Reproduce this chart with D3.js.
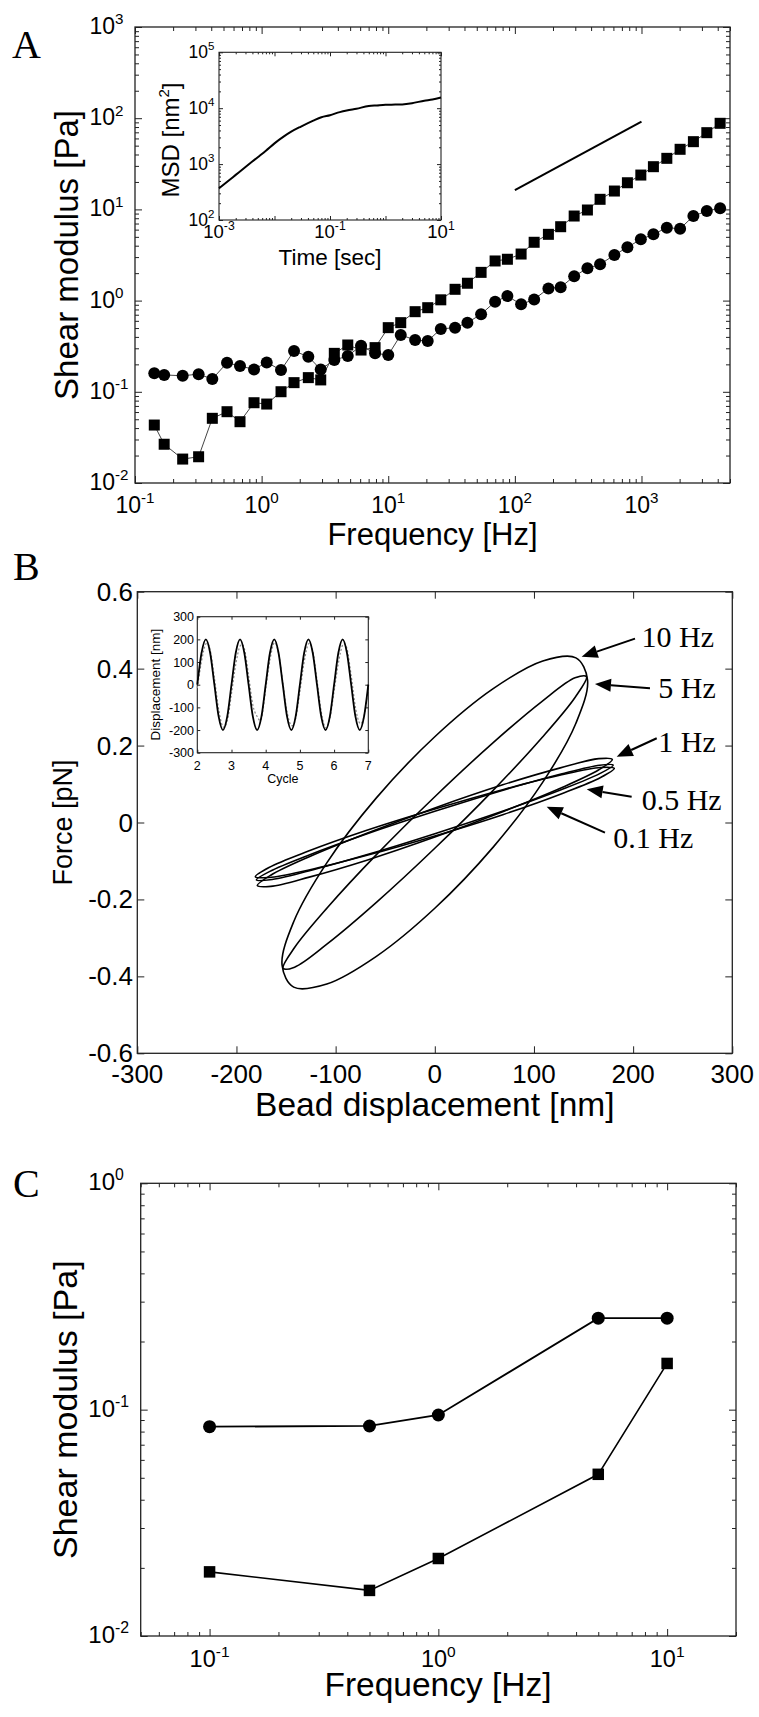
<!DOCTYPE html>
<html><head><meta charset="utf-8">
<script src="https://cdn.jsdelivr.net/npm/d3@7"></script>
<style>body{margin:0;background:#fff}svg{display:block}</style>
</head><body>
<svg id="fig" width="759" height="1717"></svg>
<script>
// ================= DATA =================
// Panel A: shear modulus vs frequency
const freqA = [0.142,0.170,0.238,0.318,0.408,0.533,0.675,0.871,1.097,1.423,1.803,2.338,2.93,3.75,4.79,6.10,7.87,10.0,12.55,16.3,20.5,26.0,33.7,42.2,54.1,69.8,87.3,112,142,184,230,294,374,471,611,774,988,1242,1585,2018,2570,3280,4178];
const gCircleA = [0.160,0.153,0.150,0.156,0.138,0.208,0.192,0.176,0.210,0.173,0.280,0.243,0.176,0.223,0.247,0.320,0.264,0.253,0.42,0.37,0.36,0.489,0.505,0.573,0.708,0.973,1.12,0.91,1.03,1.36,1.40,1.85,2.26,2.50,3.16,3.84,4.70,5.33,6.30,6.14,8.46,9.6,10.3];
const gSquareA = [0.0432,0.0266,0.0183,0.0194,0.0512,0.0605,0.047,0.0759,0.0734,0.1002,0.126,0.143,0.135,0.264,0.326,0.287,0.305,0.505,0.573,0.756,0.836,1.02,1.33,1.55,2.04,2.72,2.84,3.24,4.36,5.33,6.46,8.46,9.85,12.9,15.9,19.6,23.8,29.4,36.3,45.6,55.3,69.4,87.9];
const slopeF = [100, 1000];
const slopeG = [16.3, 91.7];
const xTickExpA = ["-1","0","1","2","3"];
const yTickExpA = ["-2","-1","0","1","2","3"];
// Inset A: MSD vs time
const msdT = [0.001,0.0015,0.002,0.003,0.005,0.007,0.01,0.015,0.02,0.03,0.05,0.07,0.1,0.15,0.2,0.3,0.5,0.7,1,1.5,2,3,5,7,10];
const msdV = [368,509,641,887,1330,1740,2350,3160,3800,4700,6000,6900,7500,8500,9100,9800,10900,11200,11500,11600,11700,12300,13600,14300,15500];
const insetAXExp = ["-3","-1","1"];
const insetAYExp = ["2","3","4","5"];

// Panel B: force vs bead displacement loops [displacement nm, force pN]
const loop10Hz = [[0,0.223],[58.9,0.348],[108.9,0.420],[142.3,0.428],[154,0.371],[142.3,0.258],[108.9,0.105],[58.9,-0.064],[0,-0.223],[-58.9,-0.348],[-108.9,-0.420],[-142.3,-0.428],[-154,-0.371],[-142.3,-0.258],[-108.9,-0.105],[-58.9,0.064]];
const loop5Hz = [[0,0.067],[58.6,0.207],[108.2,0.315],[141.4,0.376],[153,0.379],[141.4,0.325],[108.2,0.221],[58.6,0.083],[0,-0.067],[-58.6,-0.207],[-108.2,-0.315],[-141.4,-0.376],[-153,-0.379],[-141.4,-0.325],[-108.2,-0.221],[-58.6,-0.083]];
const loop1Hz = [[0,0.038],[68.5,0.098],[126.6,0.142],[165.4,0.166],[179,0.164],[165.4,0.137],[126.6,0.089],[68.5,0.028],[0,-0.038],[-68.5,-0.098],[-126.6,-0.142],[-165.4,-0.166],[-179,-0.164],[-165.4,-0.137],[-126.6,-0.089],[-68.5,-0.028]];
const loop05Hz = [[0,0.029],[68.9,0.084],[127.3,0.126],[166.3,0.149],[180,0.149],[166.3,0.127],[127.3,0.085],[68.9,0.030],[0,-0.029],[-68.9,-0.084],[-127.3,-0.126],[-166.3,-0.149],[-180,-0.149],[-166.3,-0.127],[-127.3,-0.085],[-68.9,-0.030]];
const loop01Hz = [[0,0.035],[69.3,0.086],[128,0.124],[167.2,0.143],[181,0.141],[167.2,0.117],[128,0.075],[69.3,0.021],[0,-0.035],[-69.3,-0.086],[-128,-0.124],[-167.2,-0.143],[-181,-0.141],[-167.2,-0.117],[-128,-0.075],[-69.3,-0.021]];
const loopLabels = ["10 Hz","5 Hz","1 Hz","0.5 Hz","0.1 Hz"];
// annotation anchors in data units: arrow tip, arrow tail, text start
const annTip  = [[148.1,0.431],[161.5,0.360],[183.4,0.171],[153.2,0.0863],[112.8,0.041]];
const annTail = [[201.9,0.478],[217,0.349],[223.8,0.219],[198.5,0.067],[171.6,-0.0265]];
const annText = [[208.5,0.456],[225.4,0.323],[225.4,0.184],[208.6,0.0325],[180,-0.067]];
const xTicksB = [-300,-200,-100,0,100,200,300];
const yTicksB = [-0.6,-0.4,-0.2,0,0.2,0.4,0.6];
// Inset B: displacement vs cycle
const cycle = [2,2.125,2.25,2.375,2.5,2.625,2.75,2.875,3,3.125,3.25,3.375,3.5,3.625,3.75,3.875,4,4.125,4.25,4.375,4.5,4.625,4.75,4.875,5,5.125,5.25,5.375,5.5,5.625,5.75,5.875,6,6.125,6.25,6.375,6.5,6.625,6.75,6.875,7];
const dispSolid = [0,141,200,141,0,-141,-200,-141,0,141,200,141,0,-141,-200,-141,0,141,200,141,0,-141,-200,-141,0,141,200,141,0,-141,-200,-141,0,141,200,141,0,-141,-200,-141,0];
const dispDotted = [-15,105,180,155,30,-110,-185,-160,-40,90,170,160,40,-90,-140,-150,-20,110,185,140,10,-120,-180,-150,-30,100,180,150,20,-120,-190,-150,-30,95,175,160,40,-100,-170,-140,-10];
const insetBX = [2,3,4,5,6,7];
const insetBY = [-300,-200,-100,0,100,200,300];

// Panel C
const freqC = [0.1,0.5,1,5,10];
const gCircleC = [0.0841,0.0847,0.0947,0.2535,0.2535];
const gSquareC = [0.0192,0.0159,0.0220,0.0518,0.160];
const xTickExpC = ["-1","0","1"];
const yTickExpC = ["-2","-1","0"];

// ================= DRAWING =================
const SANS = "'Liberation Sans', Arial, Helvetica, sans-serif";
const SERIF = "'Liberation Serif', 'Times New Roman', serif";
const svg = d3.select('#fig');
svg.append('rect').attr('width',759).attr('height',1717).attr('fill','#fff');

function logVals(domain){
  const maj=[],min=[];
  const k0=Math.floor(Math.log10(domain[0])-1e-9), k1=Math.ceil(Math.log10(domain[1])+1e-9);
  for(let k=k0;k<=k1;k++) for(let m=1;m<=9;m++){
    const v=+(m*Math.pow(10,k)).toPrecision(6);
    if(v>=domain[0]*0.9999 && v<=domain[1]*1.0001) (m===1?maj:min).push(v);
  }
  return {maj,min};
}

function frame(x, y, xMaj, xMin, yMaj, yMin, L, l, sw){
  const [x0,x1]=x.range(), [y0,y1]=y.range();
  const g=svg.append('g');
  const add=(fn,sc,vals,len,tx,ty)=>{
    if(!vals.length) return;
    const a=g.append('g').attr('transform',`translate(${tx},${ty})`)
      .call(fn(sc).tickValues(vals).tickSize(-len).tickSizeOuter(0).tickFormat(''));
    a.select('.domain').remove();
    a.selectAll('line').attr('stroke','#222').attr('stroke-width',1);
  };
  add(d3.axisBottom,x,xMaj,L,0,y0); add(d3.axisBottom,x,xMin,l,0,y0);
  add(d3.axisTop,x,xMaj,L,0,y1); add(d3.axisTop,x,xMin,l,0,y1);
  add(d3.axisLeft,y,yMaj,L,x0,0); add(d3.axisLeft,y,yMin,l,x0,0);
  add(d3.axisRight,y,yMaj,L,x1,0); add(d3.axisRight,y,yMin,l,x1,0);
  g.append('rect').attr('x',x0).attr('y',y1).attr('width',x1-x0).attr('height',y0-y1)
    .attr('fill','none').attr('stroke','#222').attr('stroke-width',sw||1.3);
}

function xPowLabels(x, vals, exps, baseY, size){
  vals.forEach((v,i)=>{
    const t=svg.append('text').attr('x',x(v)).attr('y',baseY).attr('text-anchor','middle')
      .attr('font-family',SANS).attr('font-size',size);
    t.append('tspan').text('10');
    t.append('tspan').attr('font-size',size*0.66).attr('dy',-size*0.42).text(exps[i]);
  });
}
function yPowLabels(y, vals, exps, rightX, dy, size){
  vals.forEach((v,i)=>{
    const t=svg.append('text').attr('x',rightX - size*1.112).attr('y',y(v)+dy).attr('text-anchor','start')
      .attr('font-family',SANS).attr('font-size',size);
    t.append('tspan').text('10');
    t.append('tspan').attr('font-size',size*0.66).attr('dy',-size*0.42).text(exps[i]);
  });
}
function axisTitle(text, x, y, size, rotate){
  const t=svg.append('text').attr('font-family',SANS).attr('font-size',size).attr('text-anchor','middle');
  if(rotate) t.attr('transform',`translate(${x},${y}) rotate(-90)`);
  else t.attr('x',x).attr('y',y);
  t.text(text);
  return t;
}
function panelLetter(s,x,y){
  svg.append('text').attr('x',x).attr('y',y).attr('font-family',SERIF).attr('font-size',40).text(s);
}
function markers(xs, ys, x, y, shape, size){
  const g=svg.append('g').attr('fill','#000');
  xs.forEach((f,i)=>{
    if(shape==='circle') g.append('circle').attr('cx',x(f)).attr('cy',y(ys[i])).attr('r',size/2);
    else g.append('rect').attr('x',x(f)-size/2).attr('y',y(ys[i])-size/2).attr('width',size).attr('height',size);
  });
}
function seriesLine(xs, ys, x, y, w, color){
  svg.append('path').datum(xs.map((f,i)=>[f,ys[i]]))
    .attr('d',d3.line().x(d=>x(d[0])).y(d=>y(d[1])))
    .attr('fill','none').attr('stroke',color).attr('stroke-width',w);
}

// ---------- Panel A ----------
const xA=d3.scaleLog().domain([0.1,5000]).range([135,730]);
const yA=d3.scaleLog().domain([0.01,1000]).range([483,27]);
{
  const xv=logVals(xA.domain()), yv=logVals(yA.domain());
  frame(xA,yA,xv.maj,xv.min,yv.maj,yv.min,7,4);
  xPowLabels(xA,xv.maj,xTickExpA,513,23);
  yPowLabels(yA,yv.maj,yTickExpA,115,7,23);
  axisTitle('Frequency [Hz]',432.5,545,31);
  axisTitle('Shear modulus [Pa]',78,255,33,true);
  seriesLine(freqA,gCircleA,xA,yA,1,'#444');
  seriesLine(freqA,gSquareA,xA,yA,1,'#444');
  markers(freqA,gCircleA,xA,yA,'circle',12);
  markers(freqA,gSquareA,xA,yA,'square',11);
  seriesLine(slopeF,slopeG,xA,yA,2,'#000');
  panelLetter('A',12,58);
}
// ---------- Inset A ----------
const xIA=d3.scaleLog().domain([0.001,10]).range([219,441]);
const yIA=d3.scaleLog().domain([100,100000]).range([220,52.3]);
{
  svg.append('rect').attr('x',219).attr('y',52.3).attr('width',222).attr('height',167.7).attr('fill','#fff');
  const xv=logVals(xIA.domain()), yv=logVals(yIA.domain());
  frame(xIA,yIA,xv.maj,xv.min,yv.maj,yv.min,4,2,1.1);
  xPowLabels(xIA,[0.001,0.1,10],insetAXExp,238,18.5);
  yPowLabels(yIA,yv.maj,insetAYExp,208,5.5,17.5);
  svg.append('path').datum(msdT.map((t,i)=>[t,msdV[i]]))
    .attr('d',d3.line().x(d=>xIA(d[0])).y(d=>yIA(d[1])).curve(d3.curveMonotoneX))
    .attr('fill','none').attr('stroke','#000').attr('stroke-width',2);
  const tt=svg.append('text').attr('font-family',SANS).attr('font-size',24).attr('text-anchor','middle')
    .attr('transform','translate(179,140) rotate(-90)');
  tt.append('tspan').text('MSD [nm');
  tt.append('tspan').attr('font-size',15).attr('dy',-10).text('2');
  tt.append('tspan').attr('dy',10).text(']');
  axisTitle('Time [sec]',330,265,22.5);
}

// ---------- Panel B ----------
const xB=d3.scaleLinear().domain([-300,300]).range([137.3,732.3]);
const yB=d3.scaleLinear().domain([-0.6,0.6]).range([1053.3,591.7]);
{
  frame(xB,yB,xTicksB,[],yTicksB,[],7,0);
  xTicksB.forEach(v=>svg.append('text').attr('x',xB(v)).attr('y',1083).attr('text-anchor','middle')
    .attr('font-family',SANS).attr('font-size',26).text(String(v)));
  yTicksB.forEach(v=>svg.append('text').attr('x',133).attr('y',yB(v)+9).attr('text-anchor','end')
    .attr('font-family',SANS).attr('font-size',26).text(v===0?'0':v.toFixed(1)));
  axisTitle('Bead displacement [nm]',434.8,1116,33.5);
  axisTitle('Force [pN]',72,822.5,27,true);
  const lineB=d3.line().x(d=>xB(d[0])).y(d=>yB(d[1])).curve(d3.curveCatmullRomClosed.alpha(0.5));
  [loop10Hz,loop5Hz,loop1Hz,loop05Hz,loop01Hz].forEach(lp=>{
    svg.append('path').datum(lp).attr('d',lineB).attr('fill','none').attr('stroke','#000').attr('stroke-width',1.6);
  });
  loopLabels.forEach((lab,i)=>{
    const tx=xB(annTip[i][0]), ty=yB(annTip[i][1]);
    const sx=xB(annTail[i][0]), sy=yB(annTail[i][1]);
    const dx=tx-sx, dy=ty-sy, len=Math.hypot(dx,dy), ux=dx/len, uy=dy/len;
    const hl=16, hw=6.5;
    const bx=tx-ux*hl, by=ty-uy*hl;
    svg.append('line').attr('x1',sx).attr('y1',sy).attr('x2',bx).attr('y2',by).attr('stroke','#000').attr('stroke-width',2);
    svg.append('polygon').attr('points',[[tx,ty],[bx-uy*hw,by+ux*hw],[bx+uy*hw,by-ux*hw]].map(p=>p.join(',')).join(' ')).attr('fill','#000');
    svg.append('text').attr('x',xB(annText[i][0])).attr('y',yB(annText[i][1]))
      .attr('font-family',SERIF).attr('font-size',30).text(lab);
  });
  panelLetter('B',13,580);
}
// ---------- Inset B ----------
const xIB=d3.scaleLinear().domain([2,7]).range([197.3,368.3]);
const yIB=d3.scaleLinear().domain([-300,300]).range([752.7,616.7]);
{
  svg.append('rect').attr('x',197.3).attr('y',616.7).attr('width',171).attr('height',136).attr('fill','#fff');
  frame(xIB,yIB,insetBX,[],insetBY,[],3,0,1.1);
  insetBX.forEach(v=>svg.append('text').attr('x',xIB(v)).attr('y',770).attr('text-anchor','middle')
    .attr('font-family',SANS).attr('font-size',12.5).text(String(v)));
  insetBY.forEach(v=>svg.append('text').attr('x',194).attr('y',yIB(v)+4.5).attr('text-anchor','end')
    .attr('font-family',SANS).attr('font-size',12.5).text(String(v)));
  axisTitle('Cycle',282.8,783,12.5);
  axisTitle('Displacement [nm]',160,684.7,13.5,true);
  const l=d3.line().x(d=>xIB(d[0])).y(d=>yIB(d[1])).curve(d3.curveCardinal);
  svg.append('path').datum(cycle.map((c,i)=>[c,dispDotted[i]])).attr('d',l)
    .attr('fill','none').attr('stroke','#888').attr('stroke-width',1.2).attr('stroke-dasharray','2,2');
  svg.append('path').datum(cycle.map((c,i)=>[c,dispSolid[i]])).attr('d',l)
    .attr('fill','none').attr('stroke','#000').attr('stroke-width',1.8);
}

// ---------- Panel C ----------
const xC=d3.scaleLog().domain([0.05,20]).range([140.7,736]);
const yC=d3.scaleLog().domain([0.01,1]).range([1636,1183.3]);
{
  const xv=logVals(xC.domain()), yv=logVals(yC.domain());
  frame(xC,yC,xv.maj,xv.min,yv.maj,yv.min,7,4);
  xPowLabels(xC,xv.maj,xTickExpC,1667,23.5);
  yPowLabels(yC,yv.maj,yTickExpC,115,7,24);
  axisTitle('Frequency [Hz]',438,1696,33.5);
  axisTitle('Shear modulus [Pa]',77,1409.7,34,true);
  seriesLine(freqC,gCircleC,xC,yC,1.8,'#000');
  seriesLine(freqC,gSquareC,xC,yC,1.6,'#000');
  markers(freqC,gCircleC,xC,yC,'circle',13);
  markers(freqC,gSquareC,xC,yC,'square',11.5);
  panelLetter('C',13,1197);
}
</script>
</body></html>
